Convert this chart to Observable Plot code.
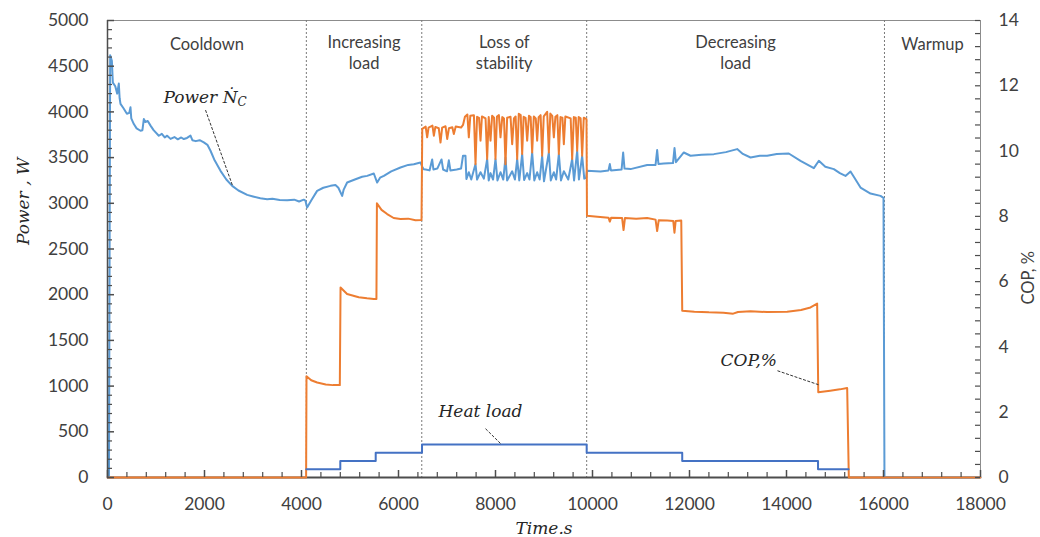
<!DOCTYPE html>
<html><head><meta charset="utf-8">
<script src="https://cdn.jsdelivr.net/npm/d3@7"></script>
<script src="https://cdn.jsdelivr.net/npm/@observablehq/plot@0.6"></script>
<style>body{margin:0;background:#fff}#chart{position:absolute;left:0;top:0}</style>
</head><body><div id="chart"></div>
<script>
// ---------- DATA ----------
const powerT = [0,30,55,90,110,160,200,233,250,268,330,400,450,474,490,543,600,680,720,749,780,830,887,950,1058,1120,1180,1230,1300,1380,1450,1520,1574,1640,1711,1750,1820,1900,1986,2060,2124,2200,2330,2450,2571,2700,2880,3000,3150,3292,3400,3550,3704,3850,3950,4047,4080,4116,4200,4322,4450,4598,4700,4760,4838,4870,4941,5100,5250,5354,5491,5560,5620,5698,5850,6041,6200,6316,6453,6490,6520,
6560,6640,6694,6720,6800,6887,6920,7000,7038,7070,7200,7290,7330,7381,7400,7450,7500,7588,7620,7691,7760,7828,7860,7897,7950,8000,8040,8103,8160,8206,8240,8344,8400,8447,8490,8550,8590,8653,8700,8756,8800,8859,8910,8962,9000,9100,9140,9203,9250,9306,9350,9409,9500,9581,9620,9684,9720,9787,9830,9870,9885,
10165,10330,10357,10380,10600,10632,10660,10784,11127,11300,11333,11360,11470,11660,11691,11720,11883,12021,12250,12502,12750,12983,13100,13258,13450,13601,13800,14047,14289,14564,14667,14800,14976,15100,15216,15320,15526,15732,15938,16000,16020,18000];
const powerW = [0,0,4620,4560,4320,4280,4200,4310,4150,4087,4040,3980,3990,4050,3930,3867,3820,3794,3800,3922,3890,3900,3850,3800,3739,3760,3720,3740,3705,3725,3700,3720,3703,3715,3740,3690,3680,3690,3666,3640,3575,3480,3355,3260,3191,3140,3092,3075,3055,3045,3050,3035,3034,3040,3020,3040,3030,2953,3030,3136,3170,3191,3200,3170,3081,3150,3227,3260,3290,3300,3326,3227,3280,3300,3350,3392,3420,3428,3447,3400,3373,
3370,3360,3480,3370,3380,3480,3370,3350,3470,3360,3370,3380,3520,3520,3265,3340,3260,3430,3260,3340,3270,3484,3250,3330,3260,3484,3250,3340,3260,3500,3250,3350,3260,3484,3250,3538,3255,3330,3260,3556,3250,3340,3260,3520,3240,3556,3250,3340,3260,3538,3250,3350,3260,3484,3250,3575,3260,3520,3270,3280,3355,
3348,3360,3429,3360,3370,3556,3380,3374,3418,3420,3582,3430,3435,3440,3604,3450,3556,3520,3530,3538,3560,3593,3540,3501,3520,3520,3540,3545,3465,3385,3465,3400,3374,3330,3300,3348,3172,3107,3081,3060,0,0];

const copT = [0,4095,4103,4200,4323,4500,4650,4790,4805,4940,5180,5350,5491,5545,5555,5650,5766,5900,6041,6200,6350,6475,
6490,6560,6591,6620,6700,6729,6760,6830,6866,6900,6970,7004,7040,7110,7141,7180,7290,7330,
7370,7420,7450,7480,7555,7588,7620,7660,7691,7720,7795,7828,7860,7897,7930,7970,8000,8030,8070,8103,8140,8175,8206,8240,8310,8344,8380,8415,8447,8480,8520,8550,8580,8620,8653,8690,8725,8756,8790,8830,8859,8890,8930,8962,8995,9065,9100,9130,9170,9203,9235,9275,9306,9340,9380,9409,9440,9550,9581,9615,9655,9684,9715,9755,9787,9820,9876,
9886,10100,10330,10357,10385,10610,10640,10670,10900,11127,11300,11333,11365,11540,11665,11690,11715,11830,
11850,12100,12400,12700,12900,13000,13258,13600,14014,14300,14495,14632,
14655,14900,15100,15251,15285,18000];
const copV = [0,0,3.10,2.98,2.91,2.85,2.83,2.83,5.82,5.62,5.52,5.49,5.47,5.47,8.40,8.20,8.07,7.95,7.92,7.93,7.88,7.89,
10.68,10.75,10.42,10.72,10.78,10.47,10.74,10.70,10.26,10.72,10.76,10.37,10.70,10.73,10.52,10.75,10.72,10.80,
11.05,11.12,10.42,11.08,11.10,9.60,11.05,11.02,10.32,11.06,11.00,9.76,11.04,10.32,11.08,11.02,9.76,11.06,11.10,10.42,11.04,11.00,9.60,11.02,11.05,10.21,11.00,11.06,9.76,11.14,11.10,9.91,11.05,11.02,10.32,11.08,11.04,9.96,11.06,11.00,10.32,11.04,11.10,9.86,11.06,11.20,9.96,11.15,11.08,10.42,11.05,11.10,9.91,11.04,11.02,10.21,11.06,11.00,9.76,11.04,11.02,10.01,11.04,11.00,9.86,11.02,10.98,
8.02,7.99,7.96,7.84,7.96,7.95,7.58,7.95,7.93,7.95,7.90,7.55,7.88,7.87,7.86,7.50,7.86,7.87,
5.11,5.08,5.06,5.05,5.02,5.07,5.09,5.07,5.08,5.13,5.21,5.33,
2.61,2.66,2.70,2.74,0,0];

const heatT = [4100,4800,5530,6485,9880,11850,14650,15280];
const heatW = [90,180,270,360,270,180,90,90];

const phaseEdges = [0,4100,6480,9880,16020,18000];
const phaseNames = ["Cooldown","Increasing\nload","Loss of\nstability","Decreasing\nload","Warmup"];

const powerTicks = [0,500,1000,1500,2000,2500,3000,3500,4000,4500,5000];
const copTicks = [0,2,4,6,8,10,12,14];
const timeTicks = [0,2000,4000,6000,8000,10000,12000,14000,16000,18000];

// annotation anchors (time s, W)
const notes = [
  {key:"power", t:1155, w:4095, lt1:2021, lw1:4020, lt2:2577, lw2:3195},
  {key:"heat",  t:6825, w:660,  lt1:7794, lw1:534,  lt2:8103, lw2:372},
  {key:"cop",   t:12639, w:1225, lt1:13814, lw1:1168, lt2:14660, lw2:1015}
];

// ---------- BUILD ----------
const W = 1040, H = 537, mL = 107, mR = 60, mT = 20, mB = 60;
const fw = W - mL - mR, fh = H - mT - mB;
const powerMax = 5000, copMax = 14, k = powerMax / copMax;
const power = powerT.map((t,i)=>({t, v: powerW[i]}));
const cop = copT.map((t,i)=>({t, v: copV[i]*k}));
const heat = heatT.map((t,i)=>({t, v: heatW[i]}));
const phases = phaseNames.map((name,i)=>({name, t:(phaseEdges[i]+phaseEdges[i+1])/2}));

const minorLeft = d3.range(0, 5001, 100).filter(d => d % 500 !== 0);
const minorRight = d3.range(0, 36).map(i => i*0.4*k);
const minorBottom = d3.range(0, 18001, 400).filter(d => d % 2000 !== 0);

const axisC = "#4d4d4d", txtC = "#404040";
const sans = "Lato, 'Open Sans', sans-serif";
const serif = "'DejaVu Serif', serif";

const chart = Plot.plot({
  width: W, height: H,
  marginLeft: mL, marginRight: mR, marginTop: mT, marginBottom: mB,
  x: {domain:[0,18000], label:null},
  y: {domain:[0,5000], label:null},
  style: {fontFamily: sans, fontSize: "17px", color: txtC, background: "#fff"},
  marks: [
    Plot.ruleY([powerMax], {stroke:"#8c8c8c"}),
    Plot.ruleX([18000], {stroke:"#8c8c8c"}),
    Plot.ruleX(phaseEdges.slice(1,-1), {stroke:"#7a7a7a", strokeDasharray:"2,2"}),
    // tick labels
    Plot.axisY(powerTicks, {tickSize:0, tickPadding:19, fontSize:17.5, fill:txtC, label:null, tickFormat:"d"}),
    Plot.axisY(copTicks.map(c=>c*k), {anchor:"right", tickSize:0, tickPadding:18, fontSize:17.5, fill:txtC, label:null,
      tickFormat: d => String(Math.round(d / k))}),
    Plot.axisX(timeTicks, {tickSize:0, tickPadding:20, fontSize:17.5, fill:txtC, label:null, tickFormat:"d"}),
    Plot.ruleY([0], {stroke:axisC, strokeWidth:2}),
    // series
    Plot.line(power, {x:"t", y:"v", stroke:"#5b9bd5", strokeWidth:2}),
    Plot.line(cop, {x:"t", y:"v", stroke:"#ed7d31", strokeWidth:2}),
    Plot.line(heat, {x:"t", y:"v", stroke:"#4472c4", strokeWidth:2, curve:"step-after"}),
    Plot.ruleX([0], {stroke:axisC, strokeWidth:1.5}),
    // inward ticks
    Plot.ruleY(powerTicks, {insetRight: fw - 7, stroke:axisC, strokeWidth:1.5}),
    Plot.ruleY(minorLeft, {insetRight: fw - 5, stroke:axisC, strokeWidth:1.2}),
    Plot.ruleY(minorRight, {insetLeft: fw - 5, stroke:axisC, strokeWidth:1.2}),
    Plot.ruleX(timeTicks, {insetTop: fh - 7, stroke:axisC, strokeWidth:1.5}),
    Plot.ruleX(minorBottom, {insetTop: fh - 5, stroke:axisC, strokeWidth:1.2}),
    // phase labels
    Plot.text(phases.filter(d=>!d.name.includes("\n")), {x:"t", text:"name", frameAnchor:"top", lineAnchor:"top", dy:18, fontSize:16.5, fill:txtC}),
    Plot.text(phases.filter(d=>d.name.includes("\n")), {x:"t", text:"name", frameAnchor:"top", lineAnchor:"top", dy:13, lineHeight:1.27, fontSize:16.5, fill:txtC}),
    // annotations
    Plot.link(notes, {x1:"lt1", y1:"lw1", x2:"lt2", y2:"lw2", stroke:"#333", strokeWidth:1, strokeDasharray:"3,1.5"}),
    Plot.text(notes.filter(d=>d.key==="power"), {x:"t", y:"w", text:()=> "Power \u1E44", textAnchor:"start", lineAnchor:"bottom", fontFamily:serif, fontStyle:"italic", fontSize:17, fill:"#262626"}),
    Plot.text(notes.filter(d=>d.key==="power"), {x:"t", y:"w", text:()=> "C", textAnchor:"start", lineAnchor:"bottom", dx:74, dy:3, fontFamily:serif, fontStyle:"italic", fontSize:12, fill:"#262626"}),
    Plot.text(notes.filter(d=>d.key==="heat"), {x:"t", y:"w", text:()=> "Heat load", textAnchor:"start", lineAnchor:"bottom", fontFamily:serif, fontStyle:"italic", fontSize:17, fill:"#262626"}),
    Plot.text(notes.filter(d=>d.key==="cop"), {x:"t", y:"w", text:()=> "COP,%", textAnchor:"start", lineAnchor:"bottom", fontFamily:serif, fontStyle:"italic", fontSize:17, fill:"#262626"}),
    // axis titles
    Plot.text(["Power , W"], {frameAnchor:"left", rotate:-90, dx:-79, dy:-4, lineAnchor:"bottom", fontFamily:serif, fontStyle:"italic", fontSize:17, fill:"#262626"}),
    Plot.text(["COP, %"], {frameAnchor:"right", rotate:-90, dx:53, dy:2, lineAnchor:"bottom", fontSize:16.5, fill:txtC}),
    Plot.text(["Time.s"], {frameAnchor:"bottom", dy:56, lineAnchor:"bottom", fontFamily:serif, fontStyle:"italic", fontSize:17, fill:"#262626"})
  ]
});
document.getElementById("chart").append(chart);
</script>
</body></html>
